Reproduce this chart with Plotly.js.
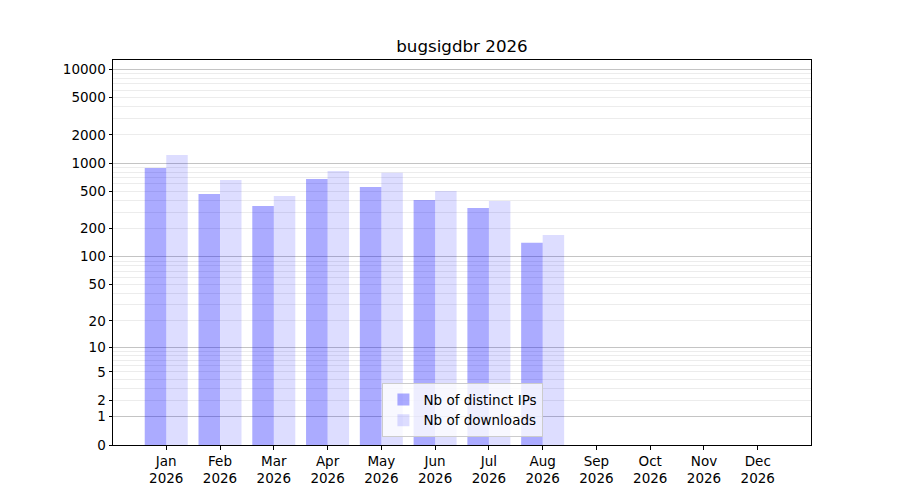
<!DOCTYPE html>
<html>
<head>
<meta charset="utf-8">
<script src="https://cdn.plot.ly/plotly-3.0.1.min.js"></script>
<style>html,body{margin:0;padding:0;background:#fff;}#chart{width:900px;height:500px;}</style>
</head>
<body>
<div id="chart"></div>
<script>
const months = ["Jan","Feb","Mar","Apr","May","Jun","Jul","Aug","Sep","Oct","Nov","Dec"];
const year = "2026";
const distinctIPs = [888, 470, 350, 679, 558, 405, 333, 141, 0, 0, 0, 0];
const downloads = [1223, 663, 447, 826, 792, 505, 395, 171, 0, 0, 0, 0];
const yTickLabels = [0, 1, 2, 5, 10, 20, 50, 100, 200, 500, 1000, 2000, 5000, 10000];
const yMajorGrid = [1, 10, 100, 1000, 10000];
const yMinorGrid = [3,4,6,7,8,9, 30,40,60,70,80,90, 300,400,600,700,800,900, 3000,4000,6000,7000,8000,9000];

// axis is log10(value + 1)
const sh = v => v + 1;
const xIdx = months.map((m, i) => i);
const xText = months.map(m => m + "<br>" + year);
const font = {family: "DejaVu Sans, sans-serif", size: 13.5, color: "#000"};

const traces = [
  {type: "bar", name: "Nb of distinct IPs", x: xIdx, y: distinctIPs.map(sh), yaxis: "y",
   offset: -0.4, width: 0.4,
   marker: {color: "rgba(0,0,255,0.33)", line: {width: 0}}},
  {type: "bar", name: "Nb of downloads", x: xIdx, y: downloads.map(sh), yaxis: "y2",
   offset: 0, width: 0.4,
   marker: {color: "rgba(0,0,255,0.135)", line: {width: 0}}}
];

const yRange = [0, 4.099];
const layout = {
  width: 900, height: 500,
  paper_bgcolor: "#fff", plot_bgcolor: "rgba(0,0,0,0)",
  margin: {l: 113.3, r: 89.3, t: 60.3, b: 55},
  font: font,
  title: {text: "bugsigdbr " + year, font: {family: "DejaVu Sans, sans-serif", size: 16.7, color: "#000"},
          x: 0.5, xanchor: "center", xref: "paper", y: 1 - 46/500, yanchor: "middle"},
  barmode: "overlay",
  showlegend: true,
  legend: {x: 0.386, y: 0.02, xanchor: "left", yanchor: "bottom",
           bgcolor: "rgba(255,255,255,0.8)", bordercolor: "#cccccc", borderwidth: 1,
           font: {family: "DejaVu Sans, sans-serif", size: 13.5, color: "#000"},
           tracegroupgap: 0, traceorder: "normal"},
  xaxis: {range: [-0.99, 11.99], tickmode: "array", tickvals: xIdx, ticktext: xText,
          showgrid: false, zeroline: false, showline: true, mirror: true, linecolor: "#000", linewidth: 1,
          ticks: "outside", ticklen: 3.5, tickwidth: 1, tickcolor: "#000", tickfont: font, fixedrange: true},
  yaxis: {type: "log", range: yRange, tickmode: "array",
          tickvals: yTickLabels.map(sh), ticktext: yTickLabels.map(String),
          showgrid: true, gridcolor: "#ececec", gridwidth: 1,
          minor: {tickmode: "array", tickvals: yMinorGrid.map(sh), showgrid: true, gridcolor: "#ececec", gridwidth: 1, ticks: ""},
          zeroline: false, showline: true, mirror: true, linecolor: "#000", linewidth: 1,
          ticks: "outside", ticklen: 3.5, tickwidth: 1, tickcolor: "#000", tickfont: font, fixedrange: true},
  yaxis2: {type: "log", range: yRange, overlaying: "y", side: "left", tickmode: "array",
           tickvals: yMajorGrid.map(sh), showticklabels: false, ticks: "",
           showgrid: true, gridcolor: "#c4c4c4", gridwidth: 1, zeroline: false, showline: false, fixedrange: true}
};

Plotly.newPlot("chart", traces, layout, {staticPlot: true, displayModeBar: false});
</script>
</body>
</html>
